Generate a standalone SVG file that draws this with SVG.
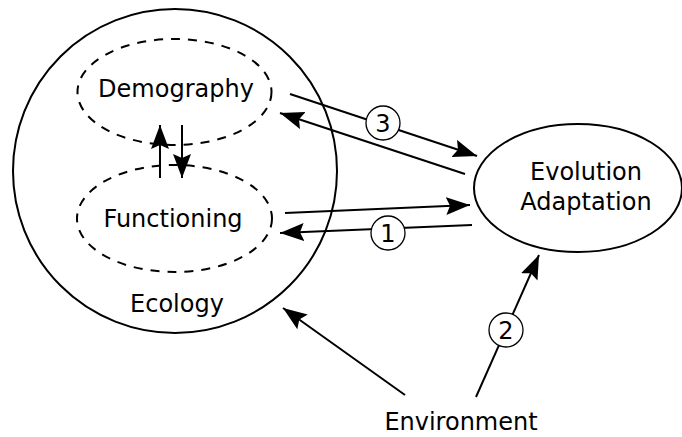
<svg xmlns="http://www.w3.org/2000/svg" width="682" height="437" viewBox="0 0 682 437">
<style>
text{font-family:"DejaVu Sans","Liberation Sans",sans-serif;font-size:24px;fill:#000;text-anchor:middle}
.solid{fill:none;stroke:#000;stroke-width:2}
.dash{fill:none;stroke:#000;stroke-width:2;stroke-dasharray:9 8}
.conn line{stroke:#000;stroke-width:2;marker-end:url(#ah)}
.lbl circle{fill:#fff;stroke:#000;stroke-width:1.3}
</style>
<defs>
<marker id="ah" markerUnits="userSpaceOnUse" markerWidth="26" markerHeight="20" refX="24" refY="9" orient="auto">
<path d="M0,0 L24,9 L0,18 L4,9 Z" fill="#000"/>
</marker>
</defs>
<rect width="682" height="437" fill="#fff"/>
<g id="ecology">
<circle class="solid" cx="175" cy="171" r="162"/>
<text x="177" y="312">Ecology</text>
</g>
<g id="demography">
<ellipse class="dash" cx="174.5" cy="92" rx="97" ry="53"/>
<text x="176" y="97">Demography</text>
</g>
<g id="functioning">
<ellipse class="dash" cx="174.5" cy="218.5" rx="97.5" ry="53.5"/>
<text x="173" y="227">Functioning</text>
</g>
<g id="evolution">
<ellipse class="solid" cx="578" cy="188" rx="104" ry="64"/>
<text x="586" y="180">Evolution</text>
<text x="586" y="210">Adaptation</text>
</g>
<g id="environment">
<text x="461" y="430">Environment</text>
</g>
<g class="conn" id="connectors">
<line x1="160" y1="178" x2="160" y2="125"/>
<line x1="182" y1="125" x2="182" y2="178"/>
<line x1="290" y1="94" x2="477" y2="156"/>
<line x1="465" y1="174" x2="280" y2="113"/>
<line x1="285" y1="213" x2="470" y2="205"/>
<line x1="472" y1="225" x2="280" y2="233"/>
<line x1="405" y1="395" x2="283" y2="308"/>
<line x1="476" y1="397" x2="539" y2="255"/>
</g>
<g class="lbl" id="labels">
<circle cx="383" cy="123" r="17"/>
<text x="383" y="132">3</text>
<circle cx="388" cy="233" r="17"/>
<text x="388" y="242">1</text>
<circle cx="506" cy="330" r="17"/>
<text x="506" y="339">2</text>
</g>
</svg>
